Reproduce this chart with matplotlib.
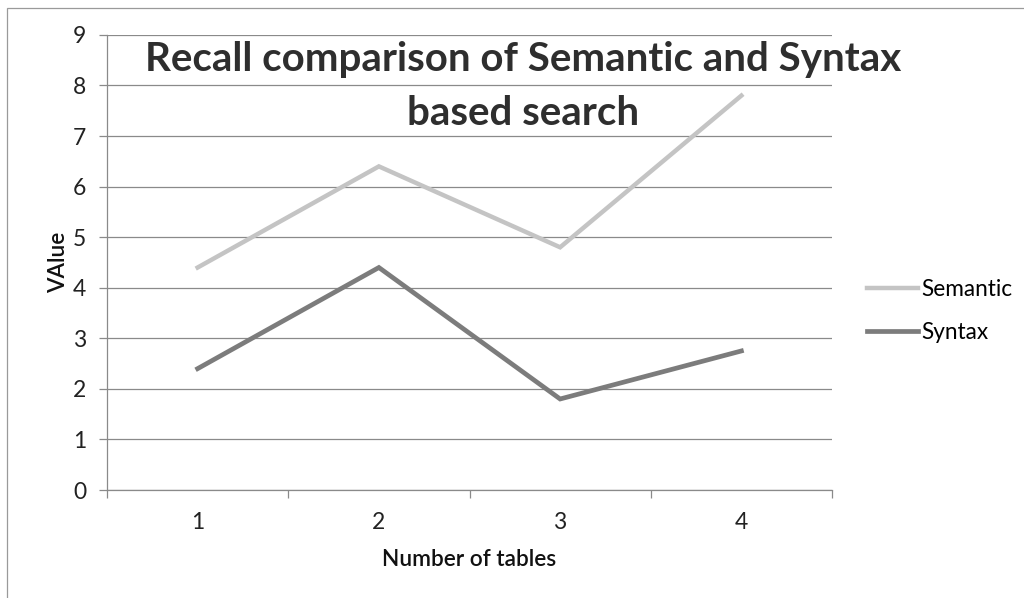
import matplotlib
matplotlib.use("Agg")
import matplotlib.pyplot as plt
from matplotlib.patches import Rectangle

plt.rcParams['font.family'] = ['Lato', 'DejaVu Sans']

tables = [1, 2, 3, 4]
semantic = [4.4, 6.4, 4.8, 7.8]
syntax = [2.4, 4.4, 1.8, 2.75]
yticks = list(range(0, 10))

fig = plt.figure(figsize=(10.24, 5.98), dpi=100)
ax = fig.add_axes([0.1045, 0.1806, 0.708, 0.761])

grid_c = "#8a8a8a"
for y in yticks:
    ax.axhline(y, color=grid_c, lw=0.9, zorder=1)

ax.plot(tables, semantic, color="#c4c4c4", lw=3.2, label="Semantic", zorder=3,
        solid_joinstyle="miter")
ax.plot(tables, syntax, color="#7c7c7c", lw=3.4, label="Syntax", zorder=3,
        solid_joinstyle="miter")

ax.set_xlim(0.5, 4.5)
ax.set_ylim(0, 9)
ax.set_yticks(yticks)
ax.set_yticklabels([str(v) for v in yticks], fontsize=16.5, color="#222222")
ax.set_xticks(tables)
ax.set_xticklabels([str(v) for v in tables], fontsize=16.5, color="#222222")
ax.tick_params(axis="x", length=0, pad=16)
ax.tick_params(axis="y", length=6, color=grid_c, width=0.9, pad=9)
ax.set_xticks([0.5, 1.5, 2.5, 3.5, 4.5], minor=True)
ax.tick_params(axis="x", which="minor", length=6, color=grid_c, width=0.9)

for s in ["top", "right"]:
    ax.spines[s].set_visible(False)
ax.spines["left"].set_color(grid_c)
ax.spines["bottom"].set_color(grid_c)
ax.spines["left"].set_linewidth(0.9)
ax.spines["bottom"].set_linewidth(0.9)

ax.set_xlabel("Number of tables", fontsize=16.3, fontweight="semibold", labelpad=11,
              color="#111111")
ax.set_ylabel("VAlue", fontsize=16.3, fontweight="semibold", labelpad=3,
              color="#111111")

fig.text(0.511, 0.855, "Recall comparison of Semantic and Syntax\nbased search",
         ha="center", va="center", fontsize=29, fontweight="bold",
         color="#2e2e2e", linespacing=1.55, zorder=5)

fig.legend(loc="center left", bbox_to_anchor=(867 / 1024, 0.48), frameon=False,
           borderpad=0, borderaxespad=0, fontsize=16.3, handlelength=2.25,
           handletextpad=0.15, labelspacing=1.0)

# outer chart border
fig.add_artist(Rectangle((7 / 1024, -0.05), 1.1, 1 - 8 / 598 + 0.05,
                         transform=fig.transFigure, fill=False,
                         edgecolor="#9a9a9a", lw=0.9))

fig.savefig("out.png", dpi=100)
